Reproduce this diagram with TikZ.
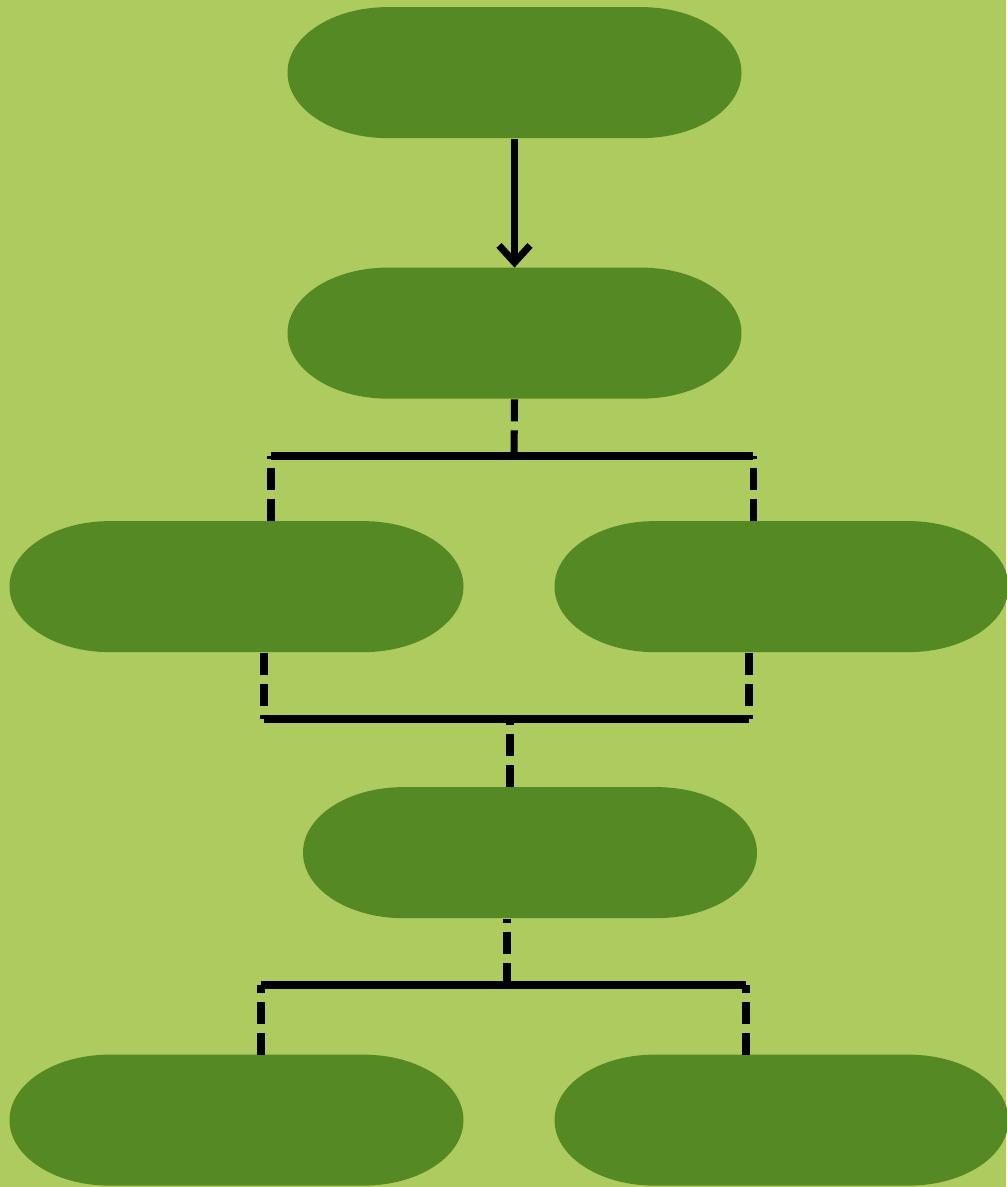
\documentclass[tikz,border=0pt]{standalone}
\usepackage{tikz}
\usepackage{xcolor}
\usetikzlibrary{arrows.meta}
\definecolor{meadow}{HTML}{AECB5F}
\definecolor{leaf}{HTML}{548923}
\tikzset{stage/.style={minimum width=9.08cm,minimum height=2.62cm,inner sep=0pt},
 arrowlink/.style={draw=black,line width=4pt,-{Straight Barb[length=0.34cm,width=0.62cm]}},
 dashlink/.style={draw=black,line width=4pt,dash pattern=on 0.44cm off 0.18cm},
 buslink/.style={draw=black,line width=4.4pt},
 }

\begin{document}
\begin{tikzpicture}
        \fill[meadow] (0,0) rectangle (20.12,23.74);
        \useasboundingbox (0,0) rectangle (20.12,23.74);
        % the stages
        \node[stage] (idea) at (10.29,22.28) {};
        \node[stage] (plan) at (10.29,17.07) {};
        \node[stage] (left) at (4.73,12.00) {};
        \node[stage] (right) at (15.63,12.00) {};
        \node[stage] (merge) at (10.60,6.68) {};
        \node[stage] (outa) at (4.73,1.33) {};
        \node[stage] (outb) at (15.63,1.33) {};
        \foreach \n in {idea,plan,left,right,merge,outa,outb}
            \fill[leaf] (\n.north) -- ++(2.54,0)
                arc[start angle=90,end angle=-90,x radius=2.0,y radius=1.31]
                -- ++(-5.08,0)
                arc[start angle=270,end angle=90,x radius=2.0,y radius=1.31] -- cycle;
        % bus points
        \coordinate (j1) at (10.28,14.62);
        \coordinate (j1l) at (5.42,14.62);
        \coordinate (j1r) at (15.06,14.62);
        \coordinate (j2) at (10.20,9.36);
        \coordinate (j2l) at (5.28,9.36);
        \coordinate (j2r) at (14.98,9.36);
        \coordinate (j3) at (10.14,4.04);
        \coordinate (j3l) at (5.22,4.04);
        \coordinate (j3r) at (14.92,4.04);
        % connectors
        \draw[arrowlink] (idea) -- (plan);
        \draw[dashlink] (plan.south) -- ([yshift=-0.1cm]j1);
        \draw[buslink] (j1l) -- (j1r);
        \draw[dashlink] (j1l |- left.north) -- (j1l);
        \draw[dashlink] (j1r |- right.north) -- (j1r);
        \draw[dashlink] (j2l |- left.south) -- (j2l);
        \draw[dashlink] (j2r |- right.south) -- (j2r);
        \draw[buslink] (j2l) -- (j2r);
        \draw[dashlink] (j2 |- merge.north) -- (j2);
        \draw[dashlink] (j3) -- (j3 |- merge.south);
        \draw[buslink] (j3l) -- (j3r);
        \draw[dashlink] (j3l |- outa.north) -- (j3l);
        \draw[dashlink] (j3r |- outb.north) -- (j3r);
    \end{tikzpicture}
\end{document}
